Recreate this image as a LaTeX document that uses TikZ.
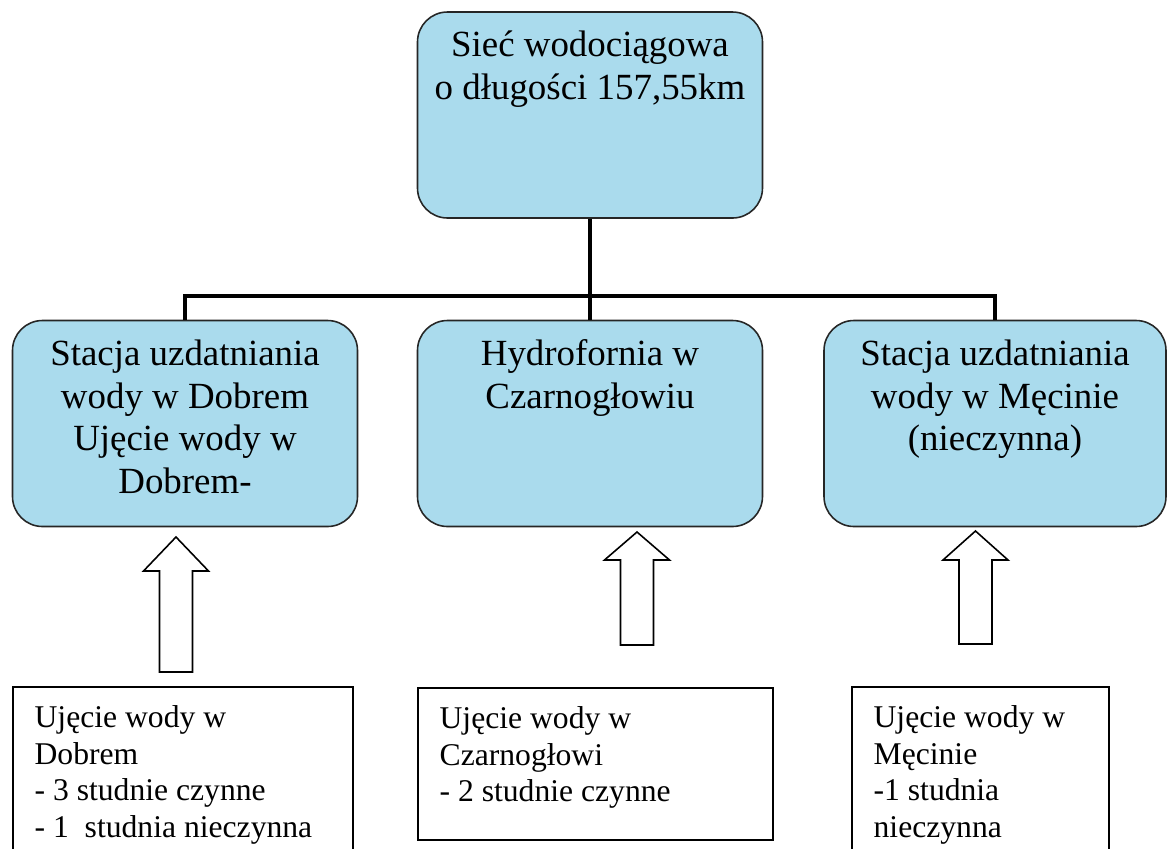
\documentclass[tikz,border=0pt]{standalone}
\usepackage{fontspec}
\setmainfont{Liberation Serif}
\usetikzlibrary{positioning}

\definecolor{niebieski}{RGB}{170,219,237}
\tikzset{
  blok/.style={draw=black!85, line width=0.9pt, fill=niebieski, rounded corners=0.6cm,
    minimum width=6.90cm, minimum height=4.12cm, inner sep=0pt},
  bloktekst/.style={align=center, inner sep=0pt, font=\fontsize{21}{24.4}\selectfont},
  ramka/.style={draw=black, line width=0.8pt, inner sep=0pt},
  ramkatekst/.style={align=left, inner sep=0pt, font=\fontsize{18}{21}\selectfont},
  szyna/.style={line width=2.2pt, black},
  strzalka/.style={draw=black, line width=0.9pt, fill=white, line join=miter}
}
% strzalka blokowa: x, y grotu, y dolu, dlugosc grotu
\newcommand{\blokstrzalka}[4]{%
  \draw[strzalka] (#1,#2) -- ++(0.65,-#4) -- ++(-0.32,0) -- (#1+0.33,#3)
    -- (#1-0.33,#3) -- (#1-0.33,#2-#4) -- ++(-0.32,0) -- cycle;}

\begin{document}
\begin{tikzpicture}
			\useasboundingbox (0,0) rectangle (23.34,-16.96);
			\node[blok] (siec) at (11.80,-2.30) {};
			\node[blok] (dobre) at (3.70,-8.47) {};
			\node[blok] (hydro) at (11.80,-8.47) {};
			\node[blok, minimum width=6.84cm] (mecin) at (19.90,-8.47) {};
			\node[bloktekst, below=0.39cm of siec.north] (siect) {Sieć wodociągowa\\o długości 157,55km};
			\node[bloktekst, below=0.39cm of dobre.north] (dobret) {Stacja uzdatniania\\wody w Dobrem\\Ujęcie wody w\\Dobrem-};
			\node[bloktekst, below=0.39cm of hydro.north] (hydrot) {Hydrofornia w\\Czarnogłowiu};
			\node[bloktekst, below=0.39cm of mecin.north] (mecint) {Stacja uzdatniania\\wody w Męcinie\\(nieczynna)};
			\draw[szyna] (siec.south) -- (hydro.north);
			\draw[szyna] (dobre.north) -- ++(0,0.48) -| (mecin.north);
			\blokstrzalka{3.52}{-10.74}{-13.44}{0.68}
			\blokstrzalka{12.74}{-10.64}{-12.90}{0.56}
			\blokstrzalka{19.51}{-10.62}{-12.88}{0.58}
			\node[ramka, minimum width=6.80cm, minimum height=3.60cm] (ujD) at (3.66,-15.54) {};
			\node[ramka, minimum width=7.10cm, minimum height=3.04cm] (ujC) at (11.91,-15.28) {};
			\node[ramka, minimum width=5.14cm, minimum height=3.60cm] (ujM) at (19.61,-15.54) {};
			\node[ramkatekst, below right=0.37cm and 0.44cm of ujD.north west] (ujDt) {Ujęcie wody w\\Dobrem\\- 3 studnie czynne\\- 1\ \ studnia nieczynna};
			\node[ramkatekst, below right=0.37cm and 0.44cm of ujC.north west] (ujCt) {Ujęcie wody w\\Czarnogłowi\\- 2 studnie czynne};
			\node[ramkatekst, below right=0.37cm and 0.44cm of ujM.north west] (ujMt) {Ujęcie wody w\\Męcinie\\-1 studnia\\nieczynna};
		\end{tikzpicture}
\end{document}
